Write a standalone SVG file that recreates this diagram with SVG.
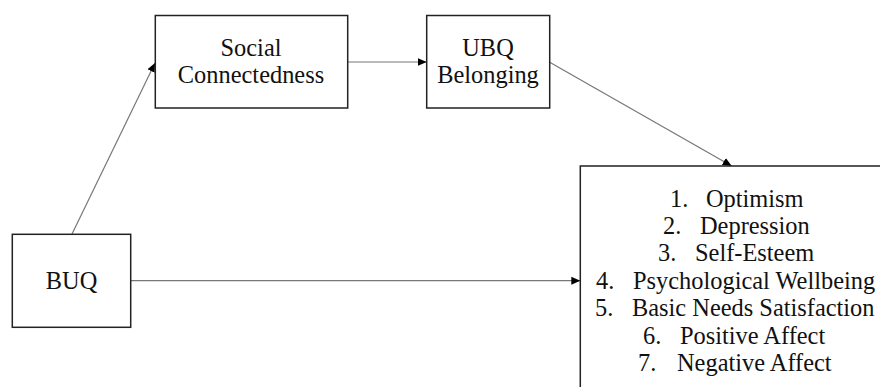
<svg xmlns="http://www.w3.org/2000/svg" width="880" height="387" viewBox="0 0 880 387">
<style>
.box{fill:#fff;stroke:#222;stroke-width:1.5}
.lbl{font-family:"Liberation Serif","Times New Roman",serif;font-size:24.4px;fill:#111}
.mid{text-anchor:middle}
.conn{stroke:#777;stroke-width:1.2;fill:none;marker-end:url(#ah)}
</style>
<defs>
<marker id="ah" markerUnits="userSpaceOnUse" markerWidth="10" markerHeight="10" viewBox="0 0 10 10" refX="9" refY="5" orient="auto">
<path d="M0,1 L9,5 L0,9 Z" fill="#000"/>
</marker>
</defs>
<rect width="880" height="387" fill="#fff"/>
<g id="connectors">
<line class="conn" x1="72" y1="234" x2="155" y2="63"/>
<line class="conn" x1="347.7" y1="62" x2="426.7" y2="62"/>
<line class="conn" x1="549.7" y1="62.3" x2="731.7" y2="166"/>
<line class="conn" x1="130.7" y1="280.7" x2="580.3" y2="280.7"/>
</g>
<g id="social">
<rect class="box" x="155.3" y="15.5" width="192.4" height="92.5"/>
<text class="lbl mid" x="251" y="56">Social</text>
<text class="lbl mid" x="251" y="83.3">Connectedness</text>
</g>
<g id="ubq">
<rect class="box" x="426.7" y="15.5" width="123" height="92.5"/>
<text class="lbl mid" x="488" y="56">UBQ</text>
<text class="lbl mid" x="488" y="83.3">Belonging</text>
</g>
<g id="buq">
<rect class="box" x="12.3" y="234.3" width="118.4" height="93"/>
<text class="lbl mid" x="71.5" y="289.3">BUQ</text>
</g>
<g id="outcomes">
<rect class="box" x="580.3" y="166" width="330" height="250"/>
<text class="lbl"><tspan x="670" y="206.5">1.</tspan><tspan x="706" y="206.5">Optimism</tspan></text>
<text class="lbl"><tspan x="663" y="233.9">2.</tspan><tspan x="700" y="233.9">Depression</tspan></text>
<text class="lbl"><tspan x="658" y="261.3">3.</tspan><tspan x="695" y="261.3">Self-Esteem</tspan></text>
<text class="lbl"><tspan x="596" y="288.7">4.</tspan><tspan x="633" y="288.7">Psychological Wellbeing</tspan></text>
<text class="lbl"><tspan x="595" y="316.1">5.</tspan><tspan x="632" y="316.1">Basic Needs Satisfaction</tspan></text>
<text class="lbl"><tspan x="643" y="343.5">6.</tspan><tspan x="680" y="343.5">Positive Affect</tspan></text>
<text class="lbl"><tspan x="638" y="370.9">7.</tspan><tspan x="677" y="370.9">Negative Affect</tspan></text>
</g>
</svg>
